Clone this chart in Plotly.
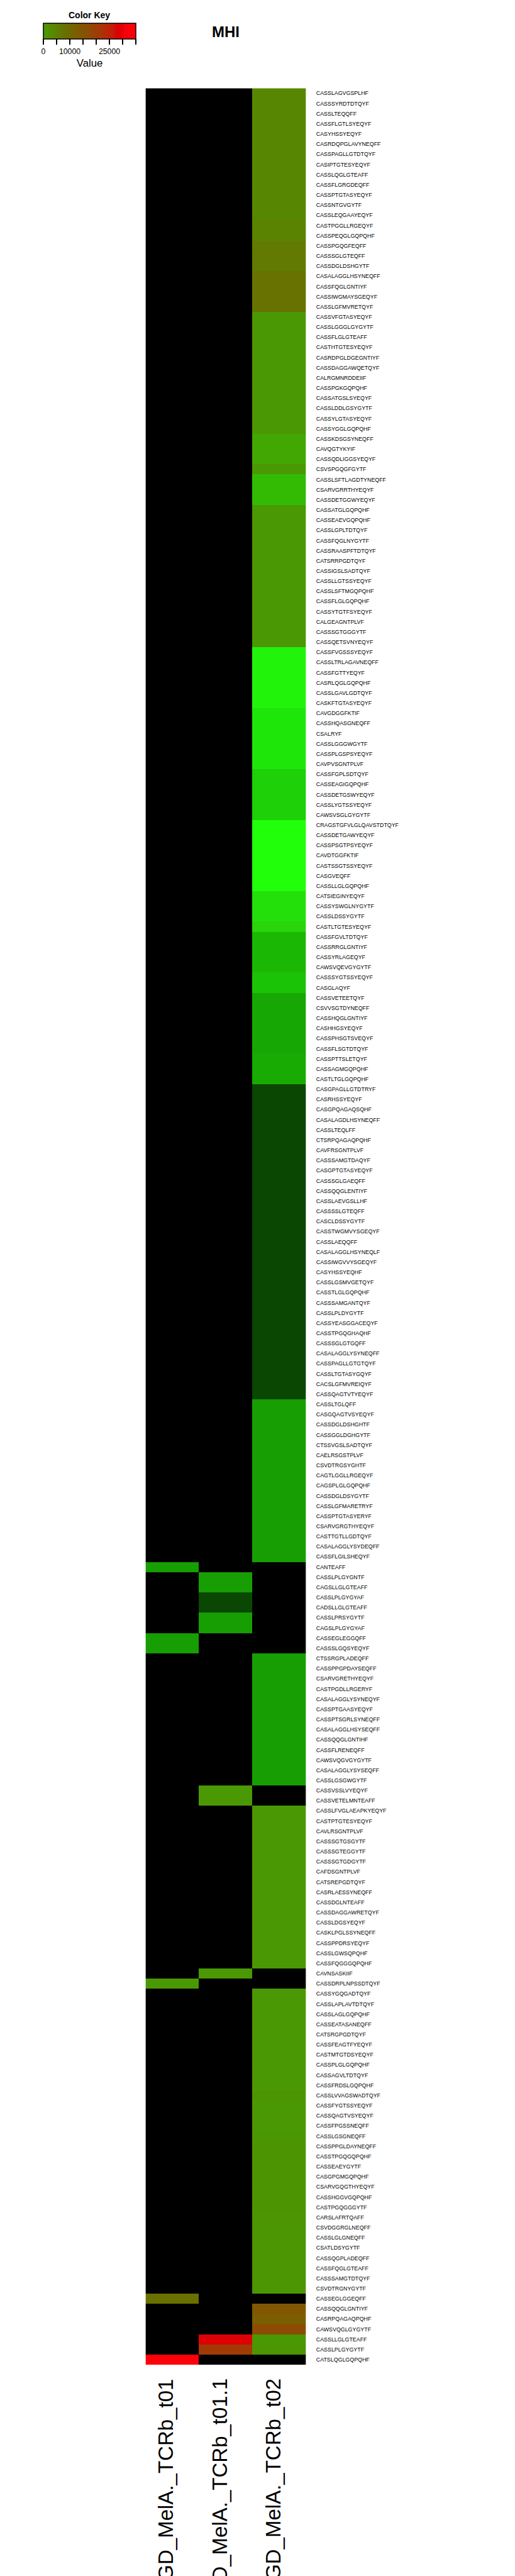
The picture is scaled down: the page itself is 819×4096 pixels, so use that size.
import plotly.graph_objects as go

W, H = 819, 4096
S = 0.682  # scale from the 1200x6000 reference

samples = ["GD_MelA._TCRb_t01", "GD_MelA._TCRb_t01.1", "GD_MelA._TCRb_t02"]

cdr3 = [
    "CASSLAGVGSPLHF", "CASSSYRDTDTQYF", "CASSLTEQQFF", "CASSFLGTLSYEQYF", "CASYHSSYEQYF",
    "CASRDQPGLAVYNEQFF", "CASSPAGLLGTDTQYF", "CASIPTGTESYEQYF", "CASSLQGLGTEAFF", "CASSFLGRGDEQFF",
    "CASSPTGTASYEQYF", "CASSNTGVGYTF", "CASSLEQGAAYEQYF", "CASTPGGLLRGEQYF", "CASSPEQGLGQPQHF",
    "CASSPGQGFEQFF", "CASSSGLGTEQFF", "CASSDGLDSHGYTF", "CASALAGGLHSYNEQFF", "CASSFQGLGNTIYF",
    "CASSIWGMAYSGEQYF", "CASSLGFMVRETQYF", "CASSVFGTASYEQYF", "CASSLGGGLGYGYTF", "CASSFLGLGTEAFF",
    "CASTHTGTESYEQYF", "CASRDPGLDGEGNTIYF", "CASSDAGGAWQETQYF", "CALRGMNRDDEIIF", "CASSPGKGQPQHF",
    "CASSATGSLSYEQYF", "CASSLDDLGSYGYTF", "CASSYLGTASYEQYF", "CASSYGGLGQPQHF", "CASSKDSGSYNEQFF",
    "CAVQGTYKYIF", "CASSQDLIGGSYEQYF", "CSVSPGQGFGYTF", "CASSLSFTLAGDTYNEQFF", "CSARVGRRTHYEQYF",
    "CASSDETGGWYEQYF", "CASSATGLGQPQHF", "CASSEAEVGQPQHF", "CASSLGPLTDTQYF", "CASSFQGLNYGYTF",
    "CASSRAASPFTDTQYF", "CATSRRPGDTQYF", "CASSIGSLSADTQYF", "CASSLLGTSSYEQYF", "CASSLSFTMGQPQHF",
    "CASSFLGLGQPQHF", "CASSYTGTFSYEQYF", "CALGEAGNTPLVF", "CASSSGTGGGYTF", "CASSQETSVNYEQYF",
    "CASSFVGSSSYEQYF", "CASSLTRLAGAVNEQFF", "CASSFGTTYEQYF", "CASRLQGLGQPQHF", "CASSLGAVLGDTQYF",
    "CASKFTGTASYEQYF", "CAVGDGGFKTIF", "CASSHQASGNEQFF", "CSALRYF", "CASSLGGGWGYTF",
    "CASSPLGSPSYEQYF", "CAVPVSGNTPLVF", "CASSFGPLSDTQYF", "CASSEAGIGQPQHF", "CASSDETGSWYEQYF",
    "CASSLYGTSSYEQYF", "CAWSVSGLGYGYTF", "CRAGSTGFVLGLQAVSTDTQYF", "CASSDETGAWYEQYF", "CASSPSGTPSYEQYF",
    "CAVDTGGFKTIF", "CASTSSGTSSYEQYF", "CASGVEQFF", "CASSLLGLGQPQHF", "CATSIEGINYEQYF",
    "CASSYSWGLNYGYTF", "CASSLDSSYGYTF", "CASTLTGTESYEQYF", "CASSFGVLTDTQYF", "CASSRRGLGNTIYF",
    "CASSYRLAGEQYF", "CAWSVQEVGYGYTF", "CASSSYGTSSYEQYF", "CASGLAQYF", "CASSVETEETQYF",
    "CSVVSGTDYNEQFF", "CASSHQGLGNTIYF", "CASHHGSYEQYF", "CASSPHSGTSVEQYF", "CASSFLSGTDTQYF",
    "CASSPTTSLETQYF", "CASSAGMGQPQHF", "CASTLTGLGQPQHF", "CASGPAGLLGTDTRYF", "CASRHSSYEQYF",
    "CASGPQAGAQSQHF", "CASALAGDLHSYNEQFF", "CASSLTEQLFF", "CTSRPQAGAQPQHF", "CAVFRSGNTPLVF",
    "CASSSAMGTDAQYF", "CASGPTGTASYEQYF", "CASSSGLGAEQFF", "CASSQQGLENTIYF", "CASSLAEVGSLLHF",
    "CASSSSLGTEQFF", "CASCLDSSYGYTF", "CASSTWGMVYSGEQYF", "CASSLAEQQFF", "CASALAGGLHSYNEQLF",
    "CASSIWGVVYSGEQYF", "CASYHSSYEQHF", "CASSLGSMVGETQYF", "CASSTLGLGQPQHF", "CASSSAMGANTQYF",
    "CASSLPLDYGYTF", "CASSYEASGGACEQYF", "CASSTPGQGHAQHF", "CASSSGLGTGQFF", "CASALAGGLYSYNEQFF",
    "CASSPAGLLGTGTQYF", "CASSLTGTASYGQYF", "CACSLGFMVREIQYF", "CASSQAGTVTYEQYF", "CASSLTGLQFF",
    "CASGQAGTVSYEQYF", "CASSDGLDSHGHTF", "CASSGGLDGHGYTF", "CTSSVGSLSADTQYF", "CAELRSGSTPLVF",
    "CSVDTRGSYGHTF", "CAGTLGGLLRGEQYF", "CAGSPLGLGQPQHF", "CASSDGLDSYGYTF", "CASSLGFMARETRYF",
    "CASSPTGTASYERYF", "CSARVGRGTHYEQYF", "CASTTGTLLGDTQYF", "CASALAGGLYSYDEQFF", "CASSFLGILSHEQYF",
    "CANTEAFF", "CASSLPLGYGNTF", "CAGSLLGLGTEAFF", "CASSLPLGYGYAF", "CADSLLGLGTEAFF",
    "CASSLPRSYGYTF", "CAGSLPLGYGYAF", "CASSEGLEGGQFF", "CASSSLGQSYEQYF", "CTSSRGPLADEQFF",
    "CASSPPGPDAYSEQFF", "CSARVGRETHYEQYF", "CASTPGDLLRGERYF", "CASALAGGLYSYNEQYF", "CASSPTGAASYEQYF",
    "CASSPTSGRLSYNEQFF", "CASALAGGLHSYSEQFF", "CASSQQGLGNTIHF", "CASSFLRENEQFF", "CAWSVQGVGYGYTF",
    "CASALAGGLYSYSEQFF", "CASSLGSGWGYTF", "CASSVSSLVYEQYF", "CASSVETELMNTEAFF", "CASSLFVGLAEAPKYEQYF",
    "CASTPTGTESYEQYF", "CAVLRSGNTPLVF", "CASSSGTGSGYTF", "CASSSGTEGGYTF", "CASSSGTGDGYTF",
    "CAFDSGNTPLVF", "CATSREPGDTQYF", "CASRLAESSYNEQFF", "CASSDGLNTEAFF", "CASSDAGGAWRETQYF",
    "CASSLDGSYEQYF", "CASKLPGLSSYNEQFF", "CASSPPDRSYEQYF", "CASSLGWSQPQHF", "CASSFQGGGQPQHF",
    "CAVNSASKIIF", "CASSDRPLNPSSDTQYF", "CASSYGQGADTQYF", "CASSLAPLAVTDTQYF", "CASSLAGLGQPQHF",
    "CASSEATASANEQFF", "CATSRGPGDTQYF", "CASSFEAGTFYEQYF", "CASTMTGTDSYEQYF", "CASSPLGLGQPQHF",
    "CASSAGVLTDTQYF", "CASSFRDSLGQPQHF", "CASSLVVAGSWADTQYF", "CASSFYGTSSYEQYF", "CASSQAGTVSYEQYF",
    "CASSFPGSSNEQFF", "CASSLGSGNEQFF", "CASSPPGLDAYNEQFF", "CASSTPGQGQPQHF", "CASSEAEYGYTF",
    "CASGPGMGQPQHF", "CSARVGQGTHYEQYF", "CASSHGGVGQPQHF", "CASTPGQGGGYTF", "CARSLAFRTQAFF",
    "CSVDGGRGLNEQFF", "CASSLGLGNEQFF", "CSATLDSYGYTF", "CASSQGPLADEQFF", "CASSFQGLGTEAFF",
    "CASSSAMGTDTQYF", "CSVDTRGNYGYTF", "CASSEGLGGEQFF", "CASSQQGLGNTIYF", "CASRPQAGAQPQHF",
    "CAWSVQGLGYGYTF", "CASSLLGLGTEAFF", "CASSLPLGYGYTF", "CATSLQGLGQPQHF",
]

t01 = [
    0, 0, 0, 0, 0, 0, 0, 0, 0, 0,            # 1-10
    0, 0, 0, 0, 0, 0, 0, 0, 0, 0,            # 11-20
    0, 0, 0, 0, 0, 0, 0, 0, 0, 0,            # 21-30
    0, 0, 0, 0, 0, 0, 0, 0, 0, 0,            # 31-40
    0, 0, 0, 0, 0, 0, 0, 0, 0, 0,            # 41-50
    0, 0, 0, 0, 0, 0, 0, 0, 0, 0,            # 51-60
    0, 0, 0, 0, 0, 0, 0, 0, 0, 0,            # 61-70
    0, 0, 0, 0, 0, 0, 0, 0, 0, 0,            # 71-80
    0, 0, 0, 0, 0, 0, 0, 0, 0, 0,            # 81-90
    0, 0, 0, 0, 0, 0, 0, 0, 0, 0,            # 91-100
    0, 0, 0, 0, 0, 0, 0, 0, 0, 0,            # 101-110
    0, 0, 0, 0, 0, 0, 0, 0, 0, 0,            # 111-120
    0, 0, 0, 0, 0, 0, 0, 0, 0, 0,            # 121-130
    0, 0, 0, 0, 0, 0, 0, 0, 0, 0,            # 131-140
    0, 0, 0, 0, 0, 45, 0, 0, 0, 0,           # 141-150
    0, 0, 45, 45, 0, 0, 0, 0, 0, 0,          # 151-160
    0, 0, 0, 0, 0, 0, 0, 0, 0, 0,            # 161-170
    0, 0, 0, 0, 0, 0, 0, 0, 0, 0,            # 171-180
    0, 0, 0, 0, 0, 0, 500, 0, 0, 0,          # 181-190
    0, 0, 0, 0, 0, 0, 0, 0, 0, 0,            # 191-200
    0, 0, 0, 0, 0, 0, 0, 0, 0, 0,            # 201-210
    0, 0, 0, 0, 0, 0, 0, 8340, 0, 0,         # 211-220
    0, 0, 0, 35000,                          # 221-224
]

t01_1 = [
    0, 0, 0, 0, 0, 0, 0, 0, 0, 0,            # 1-10
    0, 0, 0, 0, 0, 0, 0, 0, 0, 0,            # 11-20
    0, 0, 0, 0, 0, 0, 0, 0, 0, 0,            # 21-30
    0, 0, 0, 0, 0, 0, 0, 0, 0, 0,            # 31-40
    0, 0, 0, 0, 0, 0, 0, 0, 0, 0,            # 41-50
    0, 0, 0, 0, 0, 0, 0, 0, 0, 0,            # 51-60
    0, 0, 0, 0, 0, 0, 0, 0, 0, 0,            # 61-70
    0, 0, 0, 0, 0, 0, 0, 0, 0, 0,            # 71-80
    0, 0, 0, 0, 0, 0, 0, 0, 0, 0,            # 81-90
    0, 0, 0, 0, 0, 0, 0, 0, 0, 0,            # 91-100
    0, 0, 0, 0, 0, 0, 0, 0, 0, 0,            # 101-110
    0, 0, 0, 0, 0, 0, 0, 0, 0, 0,            # 111-120
    0, 0, 0, 0, 0, 0, 0, 0, 0, 0,            # 121-130
    0, 0, 0, 0, 0, 0, 0, 0, 0, 0,            # 131-140
    0, 0, 0, 0, 0, 0, 45, 45, 20, 20,        # 141-150
    45, 45, 0, 0, 0, 0, 0, 0, 0, 0,          # 151-160
    0, 0, 0, 0, 0, 0, 0, 500, 500, 0,        # 161-170
    0, 0, 0, 0, 0, 0, 0, 0, 0, 0,            # 171-180
    0, 0, 0, 0, 0, 500, 0, 0, 0, 0,          # 181-190
    0, 0, 0, 0, 0, 0, 0, 0, 0, 0,            # 191-200
    0, 0, 0, 0, 0, 0, 0, 0, 0, 0,            # 201-210
    0, 0, 0, 0, 0, 0, 0, 0, 0, 0,            # 211-220
    0, 28000, 20700, 0,                      # 221-224
]

t02 = [
    3800, 3800, 3800, 3800, 3800, 3800, 3800, 3800, 3800, 3800,   # 1-10
    3800, 3800, 3800, 4600, 4600, 6450, 6450, 6450, 7950, 7950,   # 11-20
    7950, 7950, 500, 500, 500, 500, 500, 500, 500, 500,           # 21-30
    500, 500, 500, 500, 345, 345, 345, 500, 320, 320,             # 31-40
    320, 500, 500, 500, 500, 500, 500, 500, 500, 500,             # 41-50
    500, 500, 500, 500, 500, 270, 270, 270, 270, 270,             # 51-60
    270, 245, 245, 245, 245, 245, 245, 170, 170, 170,             # 61-70
    170, 170, 295, 295, 295, 295, 295, 295, 295, 195,             # 71-80
    195, 195, 220, 120, 120, 120, 120, 145, 145, 70,              # 81-90
    70, 70, 70, 70, 70, 95, 95, 95, 20, 20,                       # 91-100
    20, 20, 20, 20, 20, 20, 20, 20, 20, 20,                       # 101-110
    20, 20, 20, 20, 20, 20, 20, 20, 20, 20,                       # 111-120
    20, 20, 20, 20, 20, 20, 20, 20, 20, 45,                       # 121-130
    45, 45, 45, 45, 45, 45, 45, 45, 45, 45,                       # 131-140
    45, 45, 45, 45, 45, 0, 0, 0, 0, 0,                            # 141-150
    0, 0, 0, 0, 45, 45, 45, 45, 45, 45,                           # 151-160
    45, 45, 45, 45, 45, 45, 45, 0, 0, 500,                        # 161-170
    500, 500, 500, 500, 500, 500, 500, 500, 500, 500,             # 171-180
    500, 500, 500, 500, 500, 0, 0, 500, 500, 500,                 # 181-190
    500, 500, 500, 500, 500, 500, 500, 1300, 500, 500,            # 191-200
    500, 600, 1300, 1300, 1300, 1300, 1300, 1300, 1300, 1100,     # 201-210
    1100, 1100, 1100, 1100, 1100, 1100, 1100, 0, 14400, 12800,    # 211-220
    17300, 500, 1100, 0,                                          # 221-224
]

key_max = 35000
key_ticks = [0, 5000, 10000, 15000, 20000, 25000, 30000, 35000]
key_ticklabels = ["0", "", "10000", "", "", "25000", "", ""]

# ---- colour styling ----
key_stops = [(0.0, "#4C9A00"), (0.25, "#6B6E00"), (0.5, "#8F4A04"), (0.62, "#A83506"),
             (0.75, "#C51C08"), (0.8, "#DD0005"), (0.86, "#E10006"), (0.875, "#F6000A"),
             (1.0, "#FF000A")]
low_stops = [(0, "#000000"), (20, "#0A4703"), (45, "#169E03"), (70, "#17A705"), (95, "#18AB03"),
             (120, "#1AB805"), (145, "#1BC306"), (170, "#1DD008"), (195, "#23E00A"),
             (220, "#2AD40A"), (245, "#1FE609"), (270, "#21F40A"), (295, "#22FF0A"),
             (320, "#33BB04"), (345, "#42A603"), (500, "#4A9803")]
main_scale = [[v / key_max, c] for v, c in low_stops] + [[f, c] for f, c in key_stops if f >= 0.25]
key_scale = [[f, c] for f, c in key_stops]

n = len(cdr3)
z = [[t01[i], t01_1[i], t02[i]] for i in range(n)]

FONT = "Liberation Sans, Arial, sans-serif"

# geometry (reference px -> paper)
hx0, hx1 = 327.6 * S / W, 702.0 * S / W
hy_top, hy_bot = 1 - 194.0 * S / H, 1 - 5501.6 * S / H

fig = go.Figure()
fig.add_trace(go.Heatmap(
    z=z, x=[0, 1, 2], y=list(range(n)),
    colorscale=main_scale, zmin=0, zmax=key_max, showscale=False,
    hovertemplate="%{y}<extra></extra>",
))
# invisible trace carrying the colour key
fig.add_trace(go.Scatter(
    x=[0], y=[0], mode="markers", hoverinfo="skip", showlegend=False,
    marker=dict(color=[0], colorscale=key_scale, cmin=0, cmax=key_max, size=1, opacity=0,
                showscale=True,
                colorbar=dict(
                    orientation="h", xref="paper", yref="paper",
                    x=89.5 * S / W, xanchor="left", y=1 - 43 * S / H, yanchor="top",
                    lenmode="pixels", len=(305 - 89.5) * S,
                    thicknessmode="pixels", thickness=(80 - 43) * S,
                    xpad=0, ypad=0, outlinewidth=1.5, outlinecolor="black",
                    ticks="outside", ticklen=9, tickwidth=1.5, tickcolor="black",
                    tickmode="array", tickvals=key_ticks, ticktext=key_ticklabels,
                    tickfont=dict(family=FONT, size=12.3, color="black"),
                    title=dict(text="Value", side="bottom",
                               font=dict(family=FONT, size=16.8, color="black")),
                )),
))

annotations = [
    dict(text="<b>Color Key</b>", x=197 * S / W, y=1 - 24 * S / H, xref="paper", yref="paper",
         xanchor="center", yanchor="middle", showarrow=False,
         font=dict(family=FONT, size=14, color="black")),
    dict(text="<b>MHI</b>", x=514 * S / W, y=1 - 63 * S / H, xref="paper", yref="paper",
         xanchor="center", yanchor="middle", showarrow=False,
         font=dict(family=FONT, size=24, color="black")),
]
for i, s in enumerate(samples):
    annotations.append(dict(
        text=s, x=i, xref="x", y=1 - 5531 * S / H, yref="paper",
        xanchor="center", yanchor="top", textangle=-90, showarrow=False, xshift=-10,
        font=dict(family=FONT, size=33, color="black")))

fig.update_layout(
    width=W, height=H, margin=dict(l=0, r=0, t=0, b=0),
    paper_bgcolor="white", plot_bgcolor="white",
    font=dict(family=FONT, color="black"),
    xaxis=dict(domain=[hx0, hx1], range=[-0.5, 2.5], showticklabels=False, showgrid=False,
               zeroline=False, ticks="", fixedrange=True),
    yaxis=dict(domain=[hy_bot, hy_top], range=[n - 0.5, -0.5], side="right",
               tickmode="array", tickvals=list(range(n)), ticktext=cdr3, ticks="",
               ticklabelstandoff=15, showgrid=False, zeroline=False,
               tickfont=dict(family=FONT, size=13 * S, color="black")),
    annotations=annotations,
    showlegend=False,
)

fig.write_html("out.html")
